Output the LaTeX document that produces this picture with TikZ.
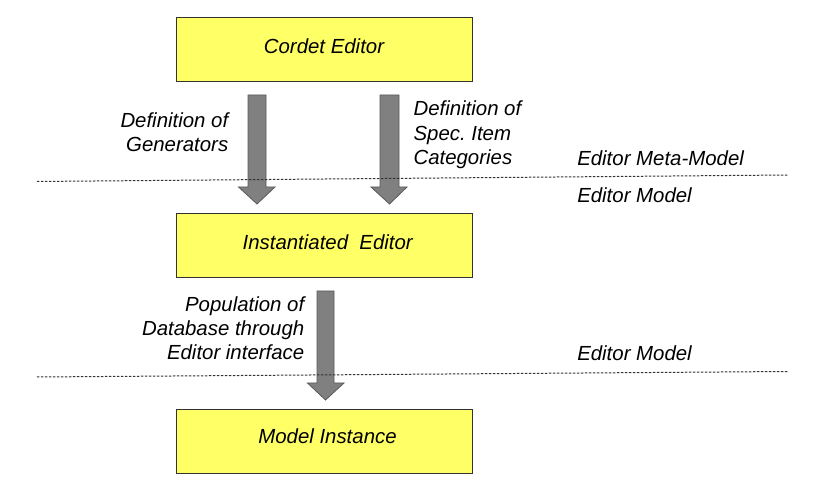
\documentclass[tikz,border=0pt]{standalone}
\usepackage{fontspec}
\setmainfont{Liberation Sans}
\frenchspacing
\begin{document}
\begin{tikzpicture}[x=0.75pt,y=-0.75pt,
  box/.style={draw=black!80,line width=0.8pt,fill=boxyellow,minimum width=222pt,minimum height=48pt,inner sep=0pt,anchor=north west},
  lbl/.style={font=\fontsize{15.3}{18.2}\selectfont\itshape,inner sep=0pt},
  blockarrow/.style={fill=arrowgray,draw=black!65,line width=0.6pt,line join=miter},
  sep/.style={draw=black!80,line width=0.75pt,dash pattern=on 1.8pt off 1.2pt}]
\definecolor{boxyellow}{HTML}{FFFF66}
\definecolor{arrowgray}{HTML}{808080}
\useasboundingbox (0,0) rectangle (818,484);
% boxes
\node[box] (ce) at (176,17) {};
\node[box] (ie) at (176,213) {};
\node[box] (mi) at (176,409) {};
\node[lbl,anchor=base] (cet) at (324,53.3) {Cordet Editor};
\node[lbl,anchor=base] (iet) at (327.7,249.3) {Instantiated\ \ Editor};
\node[lbl,anchor=base] (mit) at (327.5,444) {Model Instance};
% block arrows
\coordinate (a1) at (257,95);
\coordinate (a2) at (389.5,95);
\coordinate (a3) at (325.5,291);
\draw[blockarrow] (a1) ++(-9,0) -- ++(18,0) -- ++(0,92) -- ++(9,0) -- (257,204) -- (238.5,187) -- ++(9.5,0) -- cycle;
\draw[blockarrow] (a2) ++(-9.5,0) -- ++(19,0) -- ++(0,92) -- ++(8,0) -- (389.5,204) -- (371,187) -- ++(9,0) -- cycle;
\draw[blockarrow] (a3) ++(-8.5,0) -- ++(17,0) -- ++(0,92) -- ++(10,0) -- (325.5,400) -- (307.5,383) -- ++(9.5,0) -- cycle;
% separators
\coordinate (s1a) at (37,181.5);
\coordinate (s1b) at (788,175);
\coordinate (s2a) at (37,377);
\coordinate (s2b) at (788,371.5);
\draw[sep] (s1a) -- (s1b);
\draw[sep] (s2a) -- (s2b);
% labels (base anchor = baseline of last line)
\node[lbl,anchor=base east,align=right] (l1) at (228.5,151.7) {Definition of\\Generators};
\node[lbl,anchor=base west,align=left] (l2) at (413.3,164.3) {Definition of\\Spec. Item\\Categories};
\node[lbl,anchor=base east,align=right] (l3) at (304.5,360) {Population of\\Database through\\Editor interface};
\node[lbl,anchor=base west] (mm) at (577,166) {Editor Meta-Model};
\node[lbl,anchor=base west] (em1) at (577,202.7) {Editor Model};
\node[lbl,anchor=base west] (em2) at (577,361) {Editor Model};
\end{tikzpicture}
\end{document}
